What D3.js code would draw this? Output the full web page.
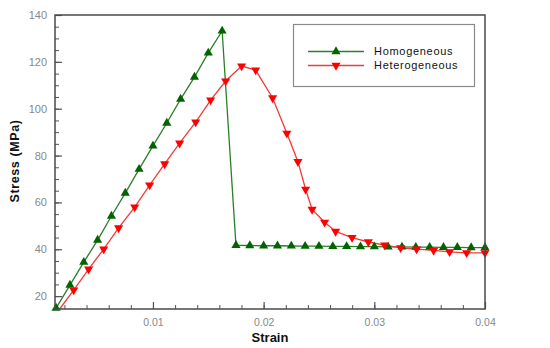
<!DOCTYPE html>
<html>
<head>
<meta charset="utf-8">
<script src="https://cdn.jsdelivr.net/npm/d3@7"></script>
<style>
	body { margin: 0; background: #fff; }
	text { font-family: Arial, 'Liberation Sans', sans-serif; }
</style>
</head>
<body>
<script>

// strain / stress values
var homStrain = [0.00125, 0.0025, 0.00375, 0.005, 0.00625, 0.0075, 0.00875,
	0.01, 0.01125, 0.0125, 0.01375, 0.015, 0.01625, 0.0175, 0.01875, 0.02,
	0.02125, 0.0225, 0.02375, 0.025, 0.02625, 0.0275, 0.02875, 0.03, 0.03125,
	0.0325, 0.03375, 0.035, 0.03625, 0.0375, 0.03875, 0.04];
var homStress = [14.9, 24.7, 34.5, 43.9, 54.2, 64.0, 74.2, 84.1, 93.9, 104.1,
	113.5, 123.8, 133.2, 41.7, 41.6, 41.5, 41.5, 41.4, 41.3, 41.3, 41.2, 41.2,
	41.1, 41.1, 41.0, 41.0, 40.9, 40.9, 40.8, 40.8, 40.7, 40.7];

var hetStrain = [0.00157, 0.00284, 0.00419, 0.00555, 0.0069, 0.00835, 0.0097,
	0.01106, 0.01241, 0.01386, 0.01521, 0.01657, 0.01801, 0.01928, 0.02081,
	0.0221, 0.0231, 0.02379, 0.02438, 0.02551, 0.0265, 0.02799, 0.02946,
	0.03093, 0.03238, 0.03382, 0.03536, 0.0368, 0.03834, 0.04];
var hetStress = [14.5, 22.6, 31.5, 40.1, 49.1, 58.0, 67.4, 76.4, 85.3, 94.3,
	103.7, 111.8, 118.2, 116.5, 104.6, 89.5, 77.4, 65.6, 57.0, 51.5, 47.6, 45.0,
	43.1, 41.8, 40.6, 40.1, 39.5, 38.9, 38.5, 38.5];

var xTicks = [0.01, 0.02, 0.03, 0.04];
var yTicks = [20, 40, 60, 80, 100, 120, 140];
var seriesNames = ['Homogeneous', 'Heterogeneous'];

var width = 550, height = 348;
var margin = {top: 15, right: 65, bottom: 39, left: 55};

var colorHom = '#006400', lineHom = '#2a7f2a',
	colorHet = '#ff0000', lineHet = '#f23a3a';

var x = d3.scaleLinear()
	.domain([0.00115, 0.04])
	.range([margin.left, width - margin.right]);

var y = d3.scaleLinear()
	.domain([14.5, 140])
	.range([height - margin.bottom, margin.top]);

var svg = d3.select('body').append('svg')
	.attr('width', width)
	.attr('height', height);

// minor + major ticks pointing inwards
var xMinor = d3.range(0.002, 0.0399, 0.002);
var yMinor = d3.range(15, 140, 5);

svg.append('g')
	.attr('transform', 'translate(0,' + (height - margin.bottom) + ')')
	.call(d3.axisBottom(x).tickValues(xMinor).tickSize(-4).tickFormat(''))
	.call(function(g) { g.select('.domain').remove(); })
	.selectAll('line').attr('stroke', '#555');

svg.append('g')
	.attr('transform', 'translate(0,' + (height - margin.bottom) + ')')
	.call(d3.axisBottom(x).tickValues(xTicks).tickSize(-7).tickPadding(7)
		.tickFormat(d3.format('.2f')))
	.call(function(g) {
		g.select('.domain').remove();
		g.selectAll('line').attr('stroke', '#555').attr('stroke-width', 1.2);
		g.selectAll('text').attr('fill', '#888').style('font-size', '10.5px')
			.attr('y', 10).attr('dy', '0.71em');
	});

svg.append('g')
	.attr('transform', 'translate(' + margin.left + ',0)')
	.call(d3.axisLeft(y).tickValues(yMinor).tickSize(-4).tickFormat(''))
	.call(function(g) { g.select('.domain').remove(); })
	.selectAll('line').attr('stroke', '#555');

svg.append('g')
	.attr('transform', 'translate(' + margin.left + ',0)')
	.call(d3.axisLeft(y).tickValues(yTicks).tickSize(-7).tickPadding(8))
	.call(function(g) {
		g.select('.domain').remove();
		g.selectAll('line').attr('stroke', '#555').attr('stroke-width', 1.2);
		g.selectAll('text').attr('fill', '#888').style('font-size', '11px')
			.attr('x', -8);
	});

// lines
var homData = homStrain.map(function(d, i) { return [d, homStress[i]]; });
var hetData = hetStrain.map(function(d, i) { return [d, hetStress[i]]; });

var line = d3.line()
	.x(function(d) { return x(d[0]); })
	.y(function(d) { return y(d[1]); });

svg.append('path')
	.attr('d', line(homData))
	.attr('fill', 'none')
	.attr('stroke', lineHom)
	.attr('stroke-width', 1.3);

svg.append('path')
	.attr('d', line(hetData))
	.attr('fill', 'none')
	.attr('stroke', lineHet)
	.attr('stroke-width', 1.3);

var tri = d3.symbol().type(d3.symbolTriangle).size(36);

svg.append('g').selectAll('path')
	.data(homData)
	.enter().append('path')
	.attr('d', tri)
	.attr('transform', function(d) {
		return 'translate(' + x(d[0]) + ',' + y(d[1]) + ')';
	})
	.attr('fill', colorHom);

// first point of the heterogeneous curve carries no symbol
svg.append('g').selectAll('path')
	.data(hetData.slice(1))
	.enter().append('path')
	.attr('d', tri)
	.attr('transform', function(d) {
		return 'translate(' + x(d[0]) + ',' + y(d[1]) + ') rotate(180)';
	})
	.attr('fill', colorHet);

// frame
svg.append('rect')
	.attr('x', margin.left)
	.attr('y', margin.top)
	.attr('width', width - margin.left - margin.right)
	.attr('height', height - margin.top - margin.bottom)
	.attr('fill', 'none')
	.attr('stroke', '#4a4a4a')
	.attr('stroke-width', 1.5);

// axis titles
svg.append('text')
	.attr('x', (margin.left + width - margin.right) / 2)
	.attr('y', 342)
	.attr('text-anchor', 'middle')
	.style('font-size', '13px')
	.style('font-weight', 'bold')
	.attr('fill', '#111')
	.text('Strain');

svg.append('text')
	.attr('transform', 'translate(19,' + 161 + ') rotate(-90)')
	.attr('text-anchor', 'middle')
	.style('font-size', '12.5px')
	.style('font-weight', 'bold')
	.style('letter-spacing', '0.6px')
	.attr('fill', '#111')
	.text('Stress (MPa)');

// legend
var legend = svg.append('g');

legend.append('rect')
	.attr('x', 293.5)
	.attr('y', 24.5)
	.attr('width', 181)
	.attr('height', 62)
	.attr('fill', '#fff')
	.attr('stroke', '#8a8a8a')
	.attr('stroke-width', 1.2);

var legendItems = [
	{name: seriesNames[0], line: lineHom, fill: colorHom, rot: 0, y: 51.5},
	{name: seriesNames[1], line: lineHet, fill: colorHet, rot: 180, y: 65.5}
];

legendItems.forEach(function(d) {
	legend.append('line')
		.attr('x1', 308).attr('x2', 364)
		.attr('y1', d.y).attr('y2', d.y)
		.attr('stroke', d.line)
		.attr('stroke-width', 1.3);
	legend.append('path')
		.attr('d', tri)
		.attr('transform', 'translate(336,' + d.y + ') rotate(' + d.rot + ')')
		.attr('fill', d.fill);
	legend.append('text')
		.attr('x', 374)
		.attr('y', d.y)
		.attr('dy', '0.36em')
		.style('font-size', '11px')
		.style('letter-spacing', '0.7px')
		.attr('fill', '#111')
		.text(d.name);
});

</script>
</body>
</html>
